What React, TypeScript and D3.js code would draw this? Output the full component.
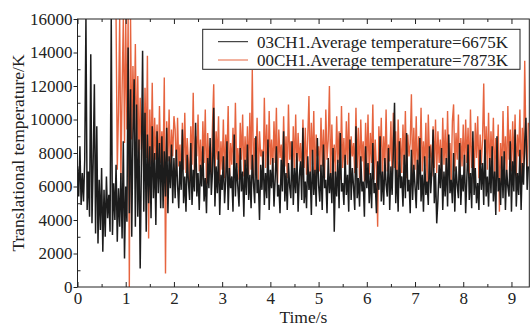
import { useEffect, useRef } from 'react'
import * as d3 from 'd3'

const DT = 0.025
const BLACK_START = 0
const RED_START = 0.8

const black03CH1 = [
  7.2, 5.4, 8.4, 4.9, 6.8, 5.1, 7.6, 16, 4.6, 6.9,
  4.2, 13.9, 3.8, 7.5, 12.1, 3.2, 9.6, 2.6, 6.4, 3.4,
  7.1, 2.1, 5.8, 3.0, 6.6, 4.1, 5.5, 3.3, 16, 3.1,
  6.2, 4.0, 7.3, 2.7, 5.9, 3.6, 6.8, 2.9, 8.7, 1.7,
  6.0, 3.9, 14.3, 4.4, 11.8, 3.0, 9.2, 12.4, 3.6, 10.9,
  4.2, 8.8, 1.1, 7.4, 14.1, 4.5, 10.4, 3.3, 9.1, 5.0,
  8.4, 4.1, 9.6, 5.3, 8.0, 3.7, 9.3, 5.6, 8.6, 4.7,
  9.0, 4.7, 8.1, 5.4, 9.5, 4.4, 7.8, 5.9, 8.5, 5.0, 7.7,
  5.3, 8.2, 6.1, 4.7, 7.5, 5.8, 9.4, 5.0, 6.6, 4.5, 7.9, 6.3, 5.2, 8.6, 4.9, 7.0, 5.7, 9.8, 5.4, 6.8,
  4.6, 7.3, 6.0, 8.4, 5.1, 6.5, 4.4, 7.7, 5.9, 8.9, 5.5, 6.9, 10.7, 4.8, 7.2, 5.6, 8.1, 4.3, 6.7, 5.8,
  7.8, 5.0, 6.4, 8.7, 4.6, 7.1, 5.9, 6.6, 4.5, 9.1, 5.4, 7.4, 6.0, 4.8, 8.3, 5.7, 6.9, 4.2, 7.6, 5.5,
  8.5, 5.2, 6.7, 4.7, 7.9, 6.2, 5.0, 9.0, 5.6, 6.4, 4.0, 7.3, 5.8, 8.1, 4.9, 6.8, 5.3, 8.8, 4.6, 7.0,
  5.9, 7.7, 4.8, 6.5, 8.4, 5.4, 6.1, 4.4, 7.6, 5.7, 9.3, 5.1, 6.8, 4.6, 7.4, 6.0, 5.3, 8.7, 4.9, 7.1,
  5.6, 8.0, 4.5, 6.6, 7.5, 5.2, 9.5, 5.0, 6.3, 4.7, 7.8, 5.8, 6.9, 4.3, 8.2, 5.5, 7.0, 4.8, 8.9, 6.1,
  5.1, 7.3, 4.6, 8.5, 5.9, 6.4, 4.4, 7.7, 5.6, 6.8, 5.0, 8.3, 3.3, 6.9, 5.4, 7.6, 4.7, 9.2, 5.7, 6.2,
  4.9, 7.9, 5.5, 6.7, 4.5, 8.8, 5.2, 7.1, 6.0, 4.6, 9.6, 5.3, 6.5, 4.8, 7.8, 5.7, 6.3, 4.2, 8.4, 5.9,
  7.4, 5.0, 6.8, 4.7, 8.6, 5.6, 6.2, 4.4, 7.5, 5.8, 9.0, 5.1, 6.9, 4.9, 7.7, 6.1, 5.4, 8.3, 4.6, 7.2,
  5.5, 8.1, 11.0, 5.0, 7.0, 4.5, 8.7, 5.9, 6.6, 4.8, 7.9, 5.3, 9.2, 5.7, 6.4, 4.4, 8.2, 5.2, 7.3, 6.0,
  4.7, 7.6, 5.8, 8.9, 5.1, 6.7, 4.5, 7.8, 5.5, 6.3, 4.9, 8.4, 5.6, 7.0, 9.4, 5.0, 6.8, 3.8, 5.2, 7.3,
  5.9, 8.3, 4.6, 6.9, 5.4, 7.7, 4.8, 9.1, 5.6, 6.4, 5.0, 8.0, 4.5, 7.2, 6.1, 5.3, 8.6, 4.9, 6.7, 5.7,
  7.9, 4.4, 6.5, 8.5, 5.2, 6.8, 4.7, 9.3, 5.5, 7.1, 5.0, 6.2, 4.6, 8.2, 5.8, 7.4, 4.9, 8.8, 5.4, 6.6,
  4.8, 7.7, 5.6, 8.4, 5.1, 6.9, 4.3, 9.0, 5.7, 6.5, 4.9, 7.8, 5.3, 8.1, 4.6, 7.0, 6.0, 5.4, 8.7, 4.5,
  7.5, 5.7, 9.4, 4.8, 6.8, 5.5, 8.2, 4.6, 7.4, 6.1, 8.7, 10.1, 5.8, 7.2,
]

const red00CH1 = [
  16, 7.0, 10.5, 16, 6.4, 11.8, 16, 8.6, 16, 9.4,
  16, 0, 16, 8.8, 13.2, 9.6, 14.5, 8.0, 12.6, 7.4,
  11.3, 8.2, 10.4, 6.8, 11.9, 7.7, 13.8, 2.9, 10.6, 7.3,
  12.2, 6.9, 10.1, 7.6, 9.7, 6.6, 10.8, 7.4, 9.3, 7.1,
  12.5, 0.8, 9.9, 7.5, 10.6, 6.8, 9.4, 7.8, 10.2,
  9.4, 6.6, 10.1, 7.2, 8.5, 6.3, 9.8, 7.0, 10.4, 6.8, 8.9, 7.5, 6.2, 9.6, 7.3, 11.6, 6.5, 9.0, 7.8, 10.3,
  6.9, 8.8, 6.4, 9.9, 7.4, 10.6, 6.1, 9.2, 7.1, 8.4, 6.7, 9.7, 12.1, 6.6, 9.3, 7.6, 10.2, 6.3, 8.7, 7.0,
  10.0, 6.5, 9.1, 7.7, 10.8, 6.2, 8.6, 7.3, 9.5, 6.8, 11.0, 7.1, 8.3, 6.4, 9.8, 7.6, 10.3, 6.6, 9.0, 7.2,
  9.6, 6.7, 10.4, 7.0, 12.95, 6.5, 8.9, 7.5, 10.1, 6.3, 9.3, 7.8, 8.2, 6.6, 11.3, 7.1, 9.7, 6.4, 10.5, 7.3,
  8.8, 6.9, 9.9, 7.4, 10.7, 6.2, 9.4, 7.7, 8.5, 6.6, 10.2, 7.2, 9.0, 6.5, 10.9, 7.6, 8.7, 6.3, 9.6, 7.0,
  10.3, 6.8, 9.2, 7.5, 8.6, 6.4, 10.0, 7.1, 9.5, 6.7, 8.9, 11.4, 6.6, 9.8, 7.3, 10.5, 6.2, 9.1, 7.8, 8.4,
  6.9, 10.1, 7.2, 9.4, 6.5, 10.6, 7.6, 8.8, 12.0, 6.3, 9.7, 7.0, 8.5, 6.7, 10.2, 7.4, 9.3, 6.4, 10.8, 7.1,
  8.9, 6.6, 9.9, 7.3, 10.4, 6.2, 9.0, 7.8, 8.6, 6.8, 10.7, 7.1, 9.5, 6.5, 10.0, 7.5, 8.7, 6.3, 9.8, 7.2,
  10.3, 6.7, 9.2, 7.4, 10.9, 6.4, 8.8, 7.0, 3.6, 9.6, 7.7, 10.1, 6.5, 9.0, 7.2, 10.6, 6.9, 8.5, 7.5, 9.9,
  6.6, 10.4, 7.1, 9.3, 6.3, 10.0, 7.6, 8.9, 6.8, 9.7, 7.3, 10.5, 6.5, 9.1, 7.8, 8.6, 11.5, 6.7, 9.5, 7.0,
  10.2, 6.4, 9.0, 7.5, 10.7, 6.9, 8.7, 7.2, 9.8, 6.2, 10.3, 7.7, 8.5, 6.6, 9.6, 7.1, 10.0, 6.8, 9.3, 7.4,
  8.8, 6.5, 10.1, 7.3, 9.4, 6.7, 10.5, 7.0, 8.6, 6.3, 9.9, 10.9, 6.9, 9.2, 7.6, 10.3, 6.4, 8.9, 7.2, 9.7,
  6.8, 10.0, 7.4, 9.5, 6.6, 10.6, 7.1, 8.7, 6.2, 9.8, 7.7, 10.2, 6.5, 9.1, 7.3, 8.8, 12.15, 6.9, 9.6, 7.0,
  10.4, 6.7, 9.3, 7.5, 10.1, 6.3, 8.9, 7.2, 9.7, 4.5, 8.6, 6.8, 10.5, 7.1, 9.0, 6.4, 10.8, 7.6, 9.4, 6.9,
  9.9, 7.3, 10.3, 6.6, 9.1, 7.8, 10.6, 6.5, 9.5, 7.2, 13.5, 8.4, 7.0, 9.8,
]

const xTicks = [0, 1, 2, 3, 4, 5, 6, 7, 8, 9]
const xMinorTicks = [0.5, 1.5, 2.5, 3.5, 4.5, 5.5, 6.5, 7.5, 8.5]
const yTicks = [0, 2000, 4000, 6000, 8000, 10000, 12000, 14000, 16000]
const yMinorTicks = [1000, 3000, 5000, 7000, 9000, 11000, 13000, 15000]

const seriesNames = ['03CH1.Average temperature=6675K', '00CH1.Average temperature=7873K']
const seriesColors = ['#1c1c1c', '#e6643f']

const W = 531
const H = 327
const FONT = '"Liberation Serif", "Times New Roman", serif'

export default function App() {
  const svgRef = useRef<SVGSVGElement>(null)

  useEffect(() => {
    if (!svgRef.current) return
    const svg = d3.select(svgRef.current)
    svg.selectAll('*').remove()

    const left = 77.5
    const right = 529.3
    const top = 19
    const bottom = 287

    const x = d3.scaleLinear().domain([0, 9.37]).range([left, right])
    const y = d3.scaleLinear().domain([0, 16000]).range([bottom, top])

    svg.append('clipPath').attr('id', 'plot-clip')
      .append('rect')
      .attr('x', left).attr('y', top)
      .attr('width', right - left).attr('height', bottom - top)

    const line = d3.line<[number, number]>()
      .x((d) => x(d[0]))
      .y((d) => y(d[1]))

    // kK -> K
    const toPoints = (vals: number[], t0: number) =>
      vals.map((v, i) => [t0 + i * DT, v * 1000] as [number, number])

    const plot = svg.append('g').attr('clip-path', 'url(#plot-clip)')

    // red first so the black record sits on top like in the figure
    plot.append('path')
      .attr('d', line(toPoints(red00CH1, RED_START)))
      .attr('fill', 'none')
      .attr('stroke', seriesColors[1])
      .attr('stroke-width', 1.4)
      .attr('stroke-linejoin', 'bevel')

    plot.append('path')
      .attr('d', line(toPoints(black03CH1, BLACK_START)))
      .attr('fill', 'none')
      .attr('stroke', seriesColors[0])
      .attr('stroke-width', 1.5)
      .attr('stroke-linejoin', 'bevel')

    const styleAxis = (g: d3.Selection<SVGGElement, unknown, null, undefined>) => {
      g.select('.domain').remove()
      g.selectAll('line').attr('stroke', '#222')
      g.selectAll('text')
        .style('font-family', FONT)
        .style('font-size', '17px')
        .attr('fill', '#222')
    }

    svg.append('g')
      .attr('transform', `translate(0,${bottom})`)
      .call(d3.axisBottom(x).tickValues(xTicks).tickSize(-5).tickPadding(5).tickFormat(d3.format('d')))
      .call(styleAxis)

    svg.append('g')
      .attr('transform', `translate(0,${bottom})`)
      .call(d3.axisBottom(x).tickValues(xMinorTicks).tickSize(-3).tickFormat(() => ''))
      .call(styleAxis)

    svg.append('g')
      .attr('transform', `translate(0,${top})`)
      .call(d3.axisTop(x).tickValues(xTicks).tickSize(-5).tickFormat(() => ''))
      .call(styleAxis)

    svg.append('g')
      .attr('transform', `translate(0,${top})`)
      .call(d3.axisTop(x).tickValues(xMinorTicks).tickSize(-3).tickFormat(() => ''))
      .call(styleAxis)

    svg.append('g')
      .attr('transform', `translate(${left},0)`)
      .call(d3.axisLeft(y).tickValues(yTicks).tickSize(4).tickPadding(1).tickFormat(d3.format('d')))
      .call(styleAxis)

    svg.append('g')
      .attr('transform', `translate(${left},0)`)
      .call(d3.axisLeft(y).tickValues(yMinorTicks).tickSize(-3).tickFormat(() => ''))
      .call(styleAxis)

    svg.append('rect')
      .attr('x', left).attr('y', top)
      .attr('width', right - left).attr('height', bottom - top)
      .attr('fill', 'none')
      .attr('stroke', '#222')
      .attr('stroke-width', 1)

    svg.append('text')
      .attr('x', (left + right) / 2)
      .attr('y', 323)
      .attr('text-anchor', 'middle')
      .style('font-family', FONT)
      .style('font-size', '17.5px')
      .attr('fill', '#222')
      .text('Time/s')

    svg.append('text')
      .attr('transform', `translate(24,${(top + bottom) / 2}) rotate(-90)`)
      .attr('text-anchor', 'middle')
      .style('font-family', FONT)
      .style('font-size', '17.5px')
      .attr('fill', '#222')
      .text('Translational temperature/K')

    const legend = svg.append('g')
    legend.append('rect')
      .attr('x', 202.7).attr('y', 29.3)
      .attr('width', 317.3).attr('height', 40)
      .attr('fill', '#fff')
      .attr('stroke', '#222')
      .attr('stroke-width', 1)

    seriesNames.forEach((name, i) => {
      const cy = 41.7 + i * 18.3
      legend.append('line')
        .attr('x1', 218).attr('x2', 248)
        .attr('y1', cy).attr('y2', cy)
        .attr('stroke', seriesColors[i])
        .attr('stroke-width', 1)
      legend.append('text')
        .attr('x', 257)
        .attr('y', cy + 6)
        .style('font-family', FONT)
        .style('font-size', '17px')
        .attr('fill', '#222')
        .text(name)
    })
  }, [])

  return (
    <svg
      ref={svgRef}
      width={W}
      height={H}
      style={{ position: 'absolute', left: 0, top: 0, background: '#fff' }}
    />
  )
}
